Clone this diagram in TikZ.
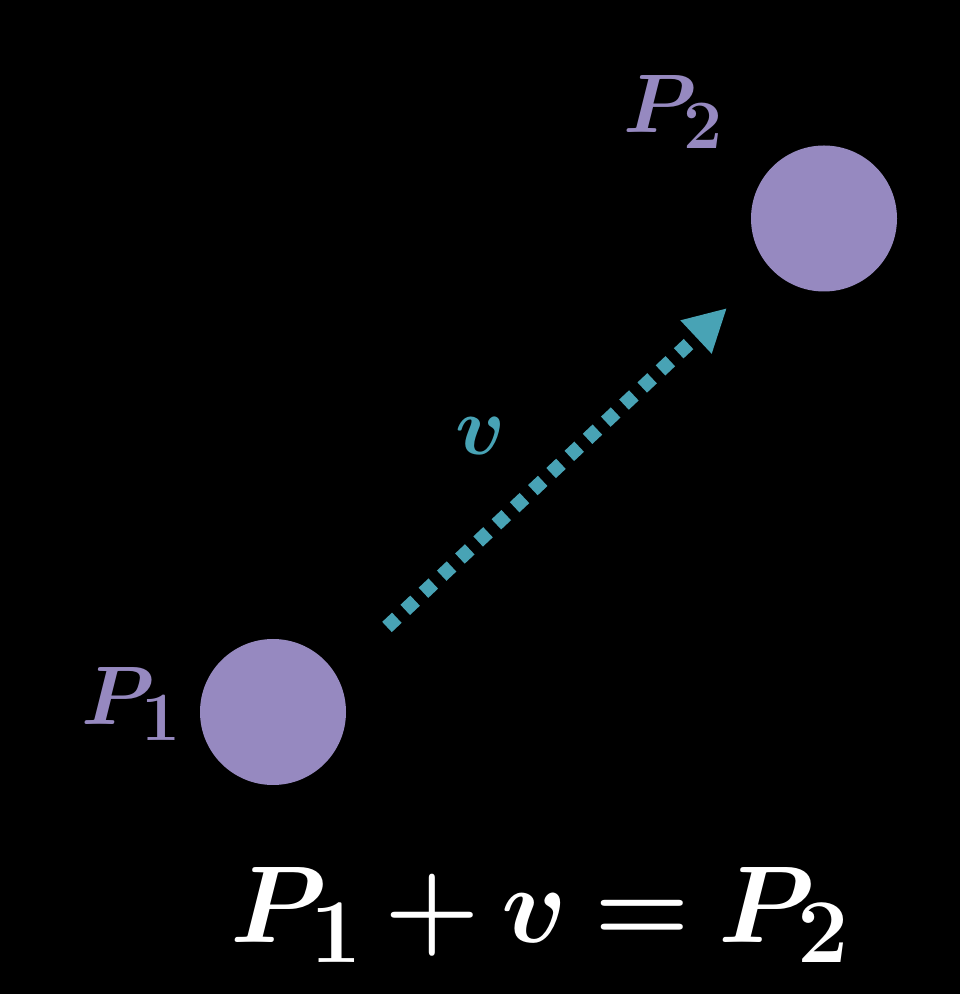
\documentclass[tikz,border=0pt]{standalone}
\usepackage{amsmath, amssymb, bm}
\usepackage{tikz}
\usetikzlibrary{arrows.meta, positioning}
\definecolor{pointpurple}{RGB}{150,137,192}
\definecolor{vecteal}{RGB}{72,163,181}

\begin{document}
\begin{tikzpicture}[>=stealth, scale=1.0,
    pt/.style={circle, fill=pointpurple, minimum size=2.92cm, inner sep=0pt},
    ptlabel/.style={text=pointpurple, inner sep=0pt, scale=1.9, font=\Huge\boldmath},
    vec/.style={draw=vecteal, line width=0.28cm, dash pattern=on 0.27cm off 0.23cm,
      -{Triangle[length=0.85cm, width=0.85cm]}}]
  % Background
  \fill[black] (0,0) rectangle (19.2,19.88);
  \useasboundingbox (0,0) rectangle (19.2,19.88);
  % Points
  \node[pt] (P1) at (5.46,5.64) {};
  \node[pt] (P2) at (16.48,15.51) {};
  \node[ptlabel, anchor=base west] (P1lab) at (1.62,5.38) {$P_1$};
  \node[ptlabel, anchor=base west] (P2lab) at (12.46,17.22) {$P_2$};
  % Vector v
  \coordinate (vstart) at (7.74,7.34);
  \coordinate (vend) at (14.54,13.72);
  \draw[vec] (vstart) -- (vend);
  \node[text=vecteal, inner sep=0pt, scale=1.9, font=\Huge\boldmath] (vlab) at (9.62,11.16) {$v$};
  % Equation
  \node[text=white, inner sep=0pt, anchor=base, scale=2.5, font=\Huge\boldmath] (eq) at (10.82,1.02)
    {\medmuskip=3mu \thickmuskip=4mu $P_1 + v = P_2$};
\end{tikzpicture}
\end{document}
